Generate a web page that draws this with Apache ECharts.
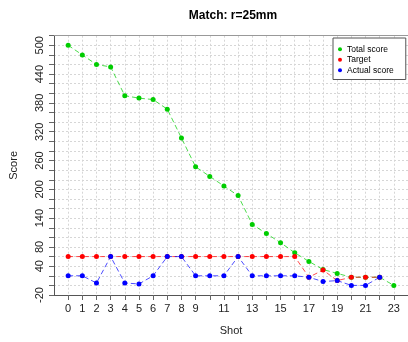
<!DOCTYPE html>
<html>
<head>
<meta charset="utf-8">
<script src="https://cdn.jsdelivr.net/npm/echarts@6/dist/echarts.min.js"></script>
<style>
html, body { margin: 0; padding: 0; background: #fff; }
#main { width: 408px; height: 342px; }
</style>
</head>
<body>
<div id="main"></div>
<script>
// data
var shots = [0,1,2,3,4,5,6,7,8,9,10,11,12,13,14,15,16,17,18,19,20,21,22,23];
var totalScore = [500,480,460,455,395,390,387,367,307,247,227,207,187,127,108,89,68,50,33,25,17,17,17,0];
var target = [60,60,60,60,60,60,60,60,60,60,60,60,60,60,60,60,60,17,32,10,17,17,17];
var actualScore = [20,20,5,60,5,3,20,60,60,20,20,20,60,20,20,20,20,17,8,10,0,0,17];
var xLabels = [0,1,2,3,4,5,6,7,8,9,11,13,15,17,19,21,23];
var yLabels = [-20,40,80,140,200,260,320,380,440,500];

function pairs(vals) {
	var out = [];
	for (var i = 0; i < vals.length; i++) {
		out.push([shots[i], vals[i]]);
	}
	return out;
}

var font = 'Liberation Sans, Arial, sans-serif';
var chart = echarts.init(document.getElementById('main'));

var option = {
	animation: false,
	textStyle: { fontFamily: font },
	title: {
		text: 'Match: r=25mm',
		left: 228,
		top: 5,
		textAlign: 'center',
		textStyle: { fontSize: 12, fontWeight: 'bold', color: '#000', fontFamily: font }
	},
	legend: {
		orient: 'vertical',
		left: 333,
		top: 38,
		padding: [6, 12, 4, 5],
		itemGap: 0,
		itemWidth: 4,
		itemHeight: 4,
		itemTextGap: 5,
		icon: 'circle',
		borderColor: '#555',
		borderWidth: 1,
		backgroundColor: '#fff',
		textStyle: { fontSize: 8.5, lineHeight: 10.5, color: '#000', fontFamily: font },
		data: ['Total score', 'Target', 'Actual score']
	},
	grid: { left: 53, right: -2, top: 35.7, bottom: 47 },
	xAxis: [{
		type: 'value',
		min: -1,
		max: 24,
		interval: 1,
		name: 'Shot',
		nameLocation: 'middle',
		nameGap: 30,
		nameTextStyle: { fontSize: 11, color: '#222', fontFamily: font },
		axisLine: { onZero: false, lineStyle: { color: '#555', width: 1 } },
		axisTick: { length: 5, customValues: shots, lineStyle: { color: '#666' } },
		axisLabel: { customValues: xLabels, fontSize: 11, color: '#222', margin: 8, fontFamily: font },
		splitLine: { show: true, lineStyle: { color: '#d6d6d6', type: [2, 2], width: 1 } }
	}, {
		type: 'value',
		position: 'top',
		min: -1,
		max: 24,
		axisLine: { show: true, onZero: false, lineStyle: { color: '#999', width: 1 } },
		axisTick: { show: false },
		axisLabel: { show: false },
		splitLine: { show: false }
	}],
	yAxis: {
		type: 'value',
		min: -20,
		max: 520,
		interval: 20,
		name: 'Score',
		nameLocation: 'middle',
		nameRotate: 90,
		nameGap: 35,
		nameTextStyle: { fontSize: 11, color: '#222', fontFamily: font },
		axisLine: { show: true, onZero: false, lineStyle: { color: '#555', width: 1 } },
		axisTick: { show: true, length: 5, lineStyle: { color: '#666' } },
		axisLabel: { customValues: yLabels, rotate: 90, fontSize: 11, color: '#222', margin: 9, fontFamily: font },
		splitLine: { show: true, lineStyle: { color: '#d6d6d6', type: [2, 2], width: 1 } }
	},
	series: [{
		name: 'Total score',
		type: 'line',
		data: pairs(totalScore),
		symbol: 'circle',
		symbolSize: 5,
		itemStyle: { color: '#00cd00' },
		lineStyle: { color: 'rgba(0,205,0,0.7)', width: 1, type: [5, 3] }
	}, {
		name: 'Target',
		type: 'line',
		data: pairs(target),
		symbol: 'circle',
		symbolSize: 5,
		itemStyle: { color: '#ff0000' },
		lineStyle: { color: 'rgba(255,0,0,0.7)', width: 1, type: [5, 3] }
	}, {
		name: 'Actual score',
		type: 'line',
		data: pairs(actualScore),
		symbol: 'circle',
		symbolSize: 5,
		itemStyle: { color: '#0000ff' },
		lineStyle: { color: 'rgba(0,0,255,0.7)', width: 1, type: [5, 3] }
	}]
};

chart.setOption(option);
window.onresize = chart.resize;
</script>
</body>
</html>
